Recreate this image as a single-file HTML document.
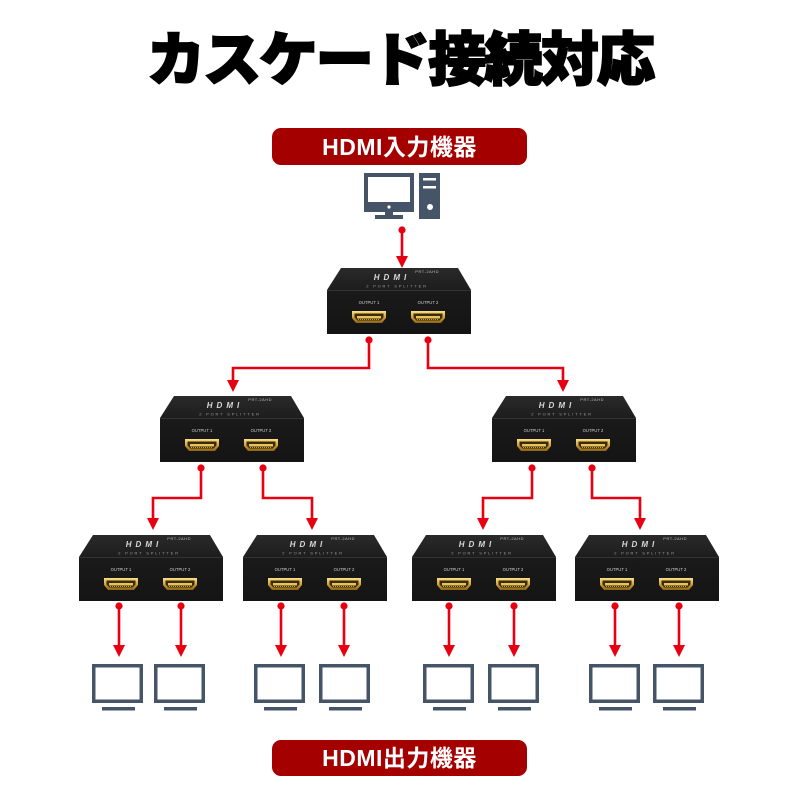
<!DOCTYPE html>
<html><head><meta charset="utf-8">
<style>
html,body{margin:0;padding:0;background:#fff;}
svg{display:block;}
</style></head>
<body>
<svg width="800" height="800" viewBox="0 0 800 800" xmlns="http://www.w3.org/2000/svg">
<defs>
  <linearGradient id="gold" x1="0" y1="0" x2="0" y2="1">
    <stop offset="0" stop-color="#fbe08a"/>
    <stop offset="0.5" stop-color="#d4a53a"/>
    <stop offset="1" stop-color="#8a6214"/>
  </linearGradient>
  <linearGradient id="topface" x1="0" y1="0" x2="0" y2="1">
    <stop offset="0" stop-color="#2a2a2a"/>
    <stop offset="1" stop-color="#1d1d1d"/>
  </linearGradient>
  <linearGradient id="front" x1="0" y1="0" x2="0" y2="1">
    <stop offset="0" stop-color="#1a1a1a"/>
    <stop offset="1" stop-color="#141414"/>
  </linearGradient>
  <g id="port">
    <polygon points="0,0 34,0 34,7 30,12 4,12 0,7" fill="url(#gold)"/>
    <polygon points="2.5,2.5 31.5,2.5 31.5,6.5 28.5,9.5 5.5,9.5 2.5,6.5" fill="#3b2c08"/>
    <rect x="5" y="5" width="24" height="2.5" fill="#e8c25a"/>
    <line x1="6" y1="8.5" x2="28" y2="8.5" stroke="#c9a040" stroke-width="1" stroke-dasharray="1 1"/>
  </g>
  <g id="box">
    <polygon points="14,0 131,0 144,22 0,22" fill="url(#topface)"/>
    <rect x="0" y="22" width="144" height="44" fill="url(#front)"/>
    <line x1="0" y1="22.5" x2="144" y2="22.5" stroke="#333" stroke-width="1"/>
    <text x="112" y="5" font-family="Liberation Sans, sans-serif" font-size="4" fill="#bbb" text-anchor="end" letter-spacing="0.5">PRT-2AHD</text>
    <text x="65" y="12" font-family="Liberation Sans, sans-serif" font-size="8" font-weight="bold" font-style="italic" fill="#d8d8d8" text-anchor="middle" letter-spacing="4">HDMI</text>
    <text x="70" y="19.5" font-family="Liberation Sans, sans-serif" font-size="4" fill="#9a9a9a" text-anchor="middle" letter-spacing="1.8">2 PORT SPLITTER</text>
    <text x="42" y="36" font-family="Liberation Sans, sans-serif" font-size="4.2" fill="#cfcfcf" text-anchor="middle">OUTPUT 1</text>
    <text x="101" y="36" font-family="Liberation Sans, sans-serif" font-size="4.2" fill="#cfcfcf" text-anchor="middle">OUTPUT 2</text>
    <use href="#port" x="25" y="43"/>
    <use href="#port" x="84" y="43"/>
  </g>
  <g id="mon">
    <rect x="1.75" y="1.75" width="47.5" height="35.5" fill="#fff" stroke="#465468" stroke-width="3.5"/>
    <rect x="10" y="43" width="33" height="3.5" fill="#465468"/>
  </g>
</defs>

<!-- Title -->
<text x="401" y="80" font-family="'Noto Sans CJK JP', 'Noto Sans CJK SC', sans-serif" font-size="58" font-weight="900" fill="#000" stroke="#000" stroke-width="2" text-anchor="middle" textLength="508" lengthAdjust="spacing">カスケード接続対応</text>

<!-- Top label -->
<rect x="272" y="128" width="255" height="37" rx="9" fill="#a50000"/>
<text x="399.5" y="155" font-family="'Liberation Sans', 'Noto Sans CJK JP', sans-serif" font-size="23" font-weight="bold" fill="#fff" text-anchor="middle" letter-spacing="0.5">HDMI入力機器</text>

<!-- Computer icon -->
<rect x="364" y="173" width="50" height="39" fill="#465468"/>
<rect x="368" y="177" width="42" height="25" fill="#fff"/>
<circle cx="389" cy="207" r="1.6" fill="#fff"/>
<rect x="385" y="212" width="8" height="4" fill="#465468"/>
<rect x="375" y="215" width="28" height="4" fill="#465468"/>
<rect x="419" y="173" width="21" height="46" fill="#465468"/>
<rect x="423" y="178" width="13" height="2.5" fill="#fff"/>
<rect x="423" y="186" width="13" height="2.5" fill="#fff"/>
<circle cx="430" cy="207" r="3" fill="#fff"/>

<!-- Boxes -->
<use href="#box" x="327" y="268"/>
<use href="#box" x="160" y="396"/>
<use href="#box" x="492" y="396"/>
<use href="#box" x="79" y="535"/>
<use href="#box" x="243" y="535"/>
<use href="#box" x="412" y="535"/>
<use href="#box" x="575" y="535"/>

<!-- Connectors -->
<g stroke="#e60012" stroke-width="2.6" fill="none">
  <line x1="402" y1="230" x2="402" y2="258"/>
  <polyline points="369,340 369,368 233,368 233,382"/>
  <polyline points="428,340 428,368 563,368 563,382"/>
  <polyline points="201,468 201,498 153,498 153,520"/>
  <polyline points="263,468 263,498 312,498 312,520"/>
  <polyline points="532,468 532,498 483,498 483,520"/>
  <polyline points="592,468 592,498 640,498 640,520"/>
  <line x1="119" y1="606" x2="119" y2="647"/>
  <line x1="181" y1="606" x2="181" y2="647"/>
  <line x1="281" y1="606" x2="281" y2="647"/>
  <line x1="344" y1="606" x2="344" y2="647"/>
  <line x1="449" y1="606" x2="449" y2="647"/>
  <line x1="514" y1="606" x2="514" y2="647"/>
  <line x1="615" y1="606" x2="615" y2="647"/>
  <line x1="679" y1="606" x2="679" y2="647"/>
</g>
<g fill="#e60012">
  <circle cx="402" cy="230" r="3.6"/>
  <circle cx="369" cy="340" r="3.6"/>
  <circle cx="428" cy="340" r="3.6"/>
  <circle cx="201" cy="468" r="3.6"/>
  <circle cx="263" cy="468" r="3.6"/>
  <circle cx="532" cy="468" r="3.6"/>
  <circle cx="592" cy="468" r="3.6"/>
  <circle cx="119" cy="606" r="3.6"/>
  <circle cx="181" cy="606" r="3.6"/>
  <circle cx="281" cy="606" r="3.6"/>
  <circle cx="344" cy="606" r="3.6"/>
  <circle cx="449" cy="606" r="3.6"/>
  <circle cx="514" cy="606" r="3.6"/>
  <circle cx="615" cy="606" r="3.6"/>
  <circle cx="679" cy="606" r="3.6"/>
  <!-- arrowheads -->
  <polygon points="396,256 408,256 402,268"/>
  <polygon points="227,380 239,380 233,392"/>
  <polygon points="557,380 569,380 563,392"/>
  <polygon points="147,518 159,518 153,530"/>
  <polygon points="306,518 318,518 312,530"/>
  <polygon points="477,518 489,518 483,530"/>
  <polygon points="634,518 646,518 640,530"/>
  <polygon points="113,645 125,645 119,657"/>
  <polygon points="175,645 187,645 181,657"/>
  <polygon points="275,645 287,645 281,657"/>
  <polygon points="338,645 350,645 344,657"/>
  <polygon points="443,645 455,645 449,657"/>
  <polygon points="508,645 520,645 514,657"/>
  <polygon points="609,645 621,645 615,657"/>
  <polygon points="673,645 685,645 679,657"/>
</g>

<!-- Monitors -->
<use href="#mon" x="92" y="664"/>
<use href="#mon" x="154" y="664"/>
<use href="#mon" x="254" y="664"/>
<use href="#mon" x="319" y="664"/>
<use href="#mon" x="423" y="664"/>
<use href="#mon" x="488" y="664"/>
<use href="#mon" x="589" y="664"/>
<use href="#mon" x="653" y="664"/>

<!-- Bottom label -->
<rect x="272" y="740" width="255" height="36" rx="9" fill="#a50000"/>
<text x="399.5" y="766" font-family="'Liberation Sans', 'Noto Sans CJK JP', sans-serif" font-size="23" font-weight="bold" fill="#fff" text-anchor="middle" letter-spacing="0.5">HDMI出力機器</text>
</svg>
</body></html>
